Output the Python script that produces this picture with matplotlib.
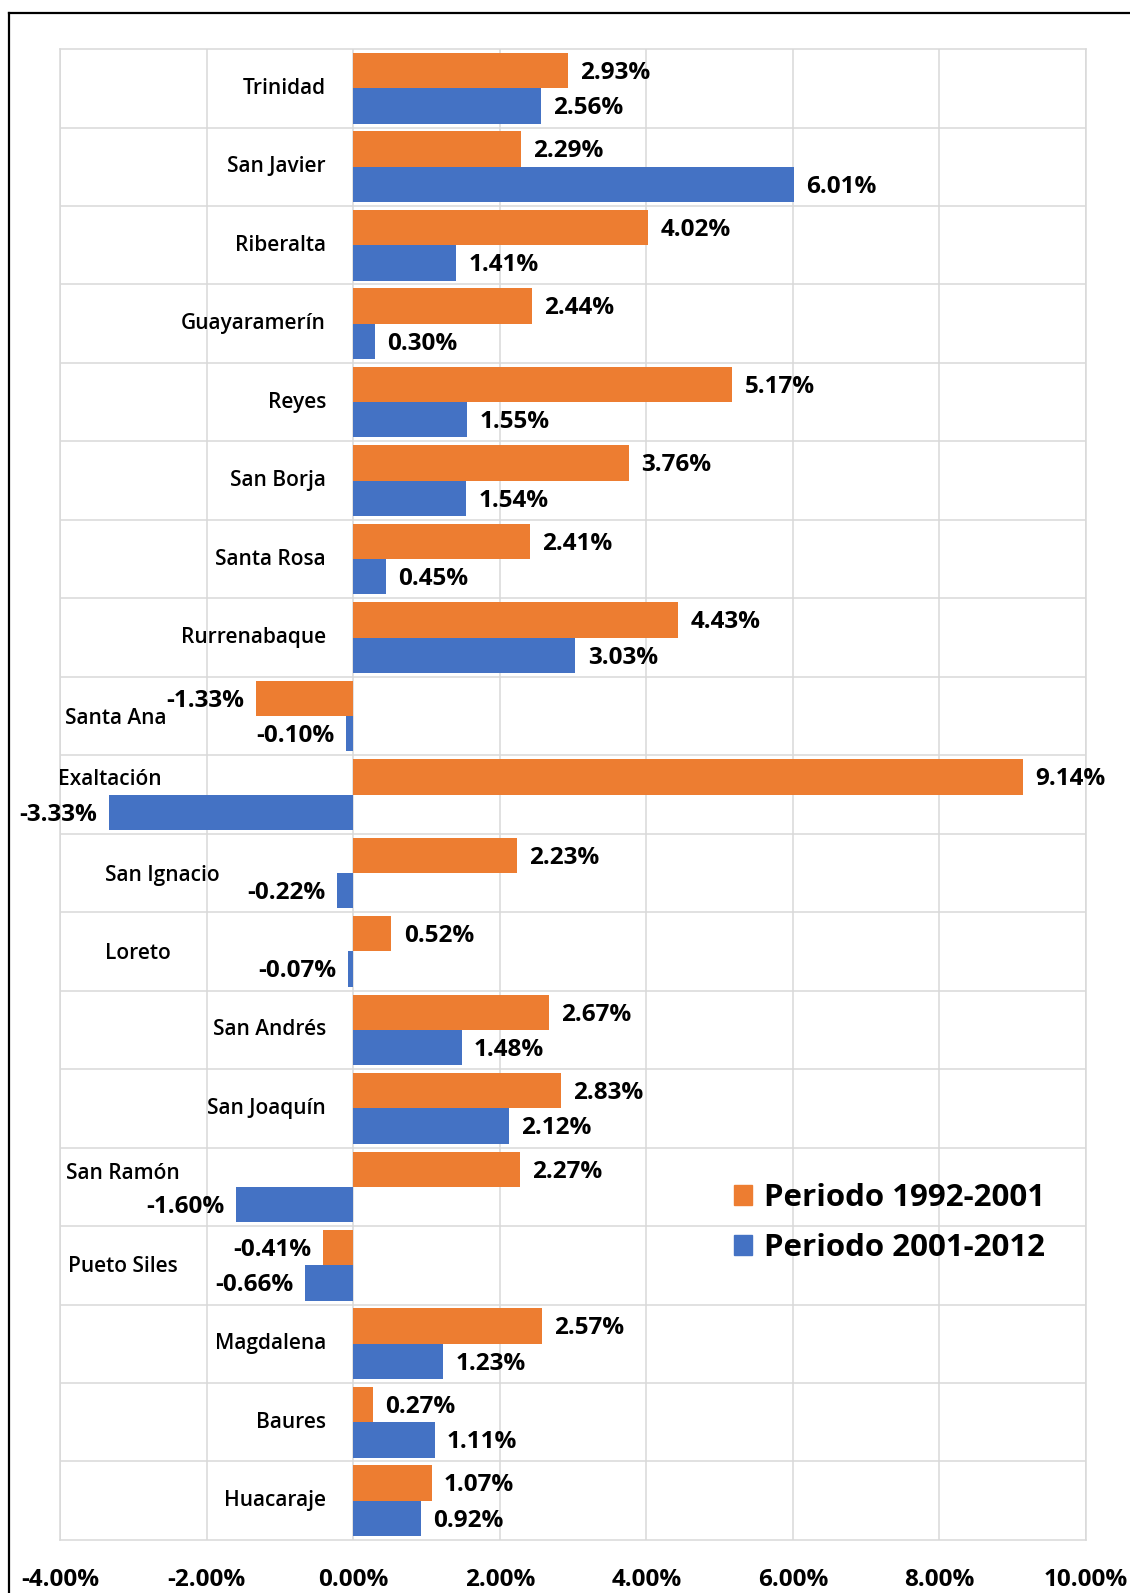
import matplotlib.pyplot as plt
from matplotlib.patches import Patch
from matplotlib.lines import Line2D
import numpy as np

# --- Data (growth rate, %) ---
municipios = [
    'Trinidad', 'San Javier', 'Riberalta', 'Guayaramerín', 'Reyes', 'San Borja',
    'Santa Rosa', 'Rurrenabaque', 'Santa Ana', 'Exaltación', 'San Ignacio',
    'Loreto', 'San Andrés', 'San Joaquín', 'San Ramón', 'Pueto Siles',
    'Magdalena', 'Baures', 'Huacaraje'
]
periodo_1992_2001 = [2.93, 2.29, 4.02, 2.44, 5.17, 3.76, 2.41, 4.43, -1.33, 9.14,
                     2.23, 0.52, 2.67, 2.83, 2.27, -0.41, 2.57, 0.27, 1.07]
periodo_2001_2012 = [2.56, 6.01, 1.41, 0.30, 1.55, 1.54, 0.45, 3.03, -0.10, -3.33,
                     -0.22, -0.07, 1.48, 2.12, -1.60, -0.66, 1.23, 1.11, 0.92]
series_labels = ['Periodo 1992-2001', 'Periodo 2001-2012']
x_ticks = [-4, -2, 0, 2, 4, 6, 8, 10]

ORANGE = '#ED7D31'
BLUE = '#4472C4'
GRID = '#D9D9D9'

# category label placement (x in %, y shift in rows) where it was moved off the axis
label_pos = {
    'Santa Ana': (-2.55, 0.03),
    'Exaltación': (-2.61, -0.19),
    'San Ignacio': (-1.82, 0.03),
    'Loreto': (-2.49, 0.03),
    'San Ramón': (-2.36, -0.17),
    'Pueto Siles': (-2.39, 0.01),
}
default_label_x = -0.37

plt.rcParams['font.family'] = ['Open Sans', 'DejaVu Sans']

fig = plt.figure(figsize=(11.3, 15.93), dpi=100)
ax = fig.add_axes([0.0531, 0.0333, 0.9080, 0.9359])

y = np.arange(len(municipios))
h = 0.45
ax.barh(y - h / 2, periodo_1992_2001, height=h, color=ORANGE, zorder=3)
ax.barh(y + h / 2, periodo_2001_2012, height=h, color=BLUE, zorder=3)

ax.set_xlim(-4, 10)
ax.set_ylim(len(municipios) - 0.5, -0.5)

# grid
ax.set_xticks(x_ticks)
ax.set_xticklabels([f'{t:.2f}%' for t in x_ticks], fontsize=17.5, fontweight='bold')
ax.set_yticks([])
ax.set_yticks(np.arange(len(municipios) - 1) + 0.5, minor=True)
ax.tick_params(axis='both', which='both', length=0)
ax.tick_params(axis='x', pad=20)
ax.grid(True, axis='x', color=GRID, linewidth=1.1, zorder=0)
ax.grid(True, axis='y', which='minor', color=GRID, linewidth=1.1, zorder=0)
for s in ax.spines.values():
    s.set_color(GRID)
    s.set_linewidth(1.1)

# data labels
def put_labels(vals, offset):
    for i, v in enumerate(vals):
        if v >= 0:
            ax.text(v + 0.17, i + offset + 0.03, f'{v:.2f}%', ha='left', va='center',
                    fontsize=17.5, fontweight='bold', zorder=4)
        else:
            ax.text(v - 0.16, i + offset + 0.03, f'{v:.2f}%', ha='right', va='center',
                    fontsize=17.5, fontweight='bold', zorder=4)

put_labels(periodo_1992_2001, -h / 2)
put_labels(periodo_2001_2012, h / 2)

# category labels
for i, name in enumerate(municipios):
    lx, dy = label_pos.get(name, (default_label_x, 0.0))
    ax.text(lx, i + dy, name, ha='right', va='center', fontsize=15,
            fontweight='semibold', zorder=4)

# legend
handles = [Patch(color=ORANGE), Patch(color=BLUE)]
fig.legend(handles, series_labels, loc='center left',
           bbox_to_anchor=(0.6355, 1 - 1223 / 1593), frameon=False, borderpad=0,
           handlelength=0.58, handleheight=0.6, handletextpad=0.4,
           labelspacing=0.62, prop={'weight': 'bold', 'size': 22.5})

# outer frame (left and top edges)
fig.add_artist(Line2D([9 / 1130, 9 / 1130], [0, 1 - 13 / 1593], color='black',
                      linewidth=1.6, transform=fig.transFigure))
fig.add_artist(Line2D([9 / 1130, 1], [1 - 13 / 1593, 1 - 13 / 1593], color='black',
                      linewidth=1.6, transform=fig.transFigure))

fig.savefig('out.png', dpi=100)
